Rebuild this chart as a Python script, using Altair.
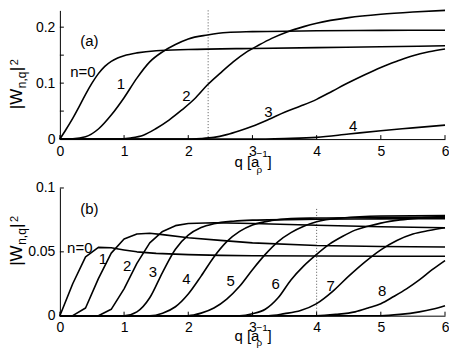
import altair as alt
import pandas as pd

FONT = "'Liberation Sans Narrow', 'Liberation Sans', Arial, sans-serif"
TFONT = "'Liberation Sans', Arial, sans-serif"

# ---------------- panel (a) ----------------
A_Q0 = [0, 0.1, 0.2, 0.3, 0.4, 0.5, 0.6, 0.7, 0.8, 0.9, 1.0, 1.2, 1.5, 2.0, 3.0, 4.0, 5.0, 6.0]
A_W0 = [0, 0.018, 0.037, 0.058, 0.080, 0.100, 0.117, 0.130, 0.139, 0.145, 0.149, 0.154, 0.158, 0.160, 0.162, 0.1635, 0.165, 0.1667]
A_Q1 = [0, 0.2, 0.4, 0.6, 0.8, 1.0, 1.2, 1.4, 1.6, 1.8, 2.0, 2.3, 2.6, 3.0, 4.0, 5.0, 6.0]
A_W1 = [0, 0.0005, 0.004, 0.018, 0.043, 0.074, 0.109, 0.138, 0.156, 0.169, 0.179, 0.186, 0.1905, 0.192, 0.1935, 0.1943, 0.1946]
A_Q2 = [0, 0.9, 1.1, 1.3, 1.5, 1.7, 1.9, 2.1, 2.3, 2.5, 2.7, 2.9, 3.1, 3.3, 3.55, 3.8, 4.0, 4.5, 5.0, 5.5, 6.0]
A_W2 = [0, 0, 0.002, 0.007, 0.019, 0.034, 0.052, 0.072, 0.097, 0.118, 0.138, 0.155, 0.168, 0.180, 0.192, 0.201, 0.207, 0.217, 0.223, 0.227, 0.230]
A_Q3 = [0, 1.9, 2.2, 2.4, 2.6, 2.8, 3.0, 3.25, 3.5, 3.75, 4.0, 4.25, 4.5, 4.75, 5.0, 5.25, 5.5, 5.75, 6.0]
A_W3 = [0, 0, 0.001, 0.003, 0.008, 0.015, 0.023, 0.035, 0.048, 0.059, 0.071, 0.086, 0.101, 0.115, 0.128, 0.139, 0.149, 0.156, 0.161]
A_Q4 = [0, 3.0, 3.5, 4.0, 4.5, 5.0, 5.5, 6.0]
A_W4 = [0, 0, 0.001, 0.003, 0.009, 0.015, 0.020, 0.025]

A_LABEL_TEXT = ["(a)", "n=0", "1", "2", "3", "4"]
A_LABEL_Q = [0.46, 0.36, 0.95, 1.97, 3.25, 4.57]
A_LABEL_W = [0.175, 0.1205, 0.098, 0.077, 0.049, 0.024]
A_YTICKS = [0, 0.05, 0.1, 0.15, 0.2]
A_DOMAIN = [0, 0.23]
A_MARKER_Q = 2.31

# ---------------- panel (b) ----------------
B_Q0 = [0, 0.2, 0.4, 0.6, 0.8, 1.0, 1.2, 1.5, 2.0, 2.5, 3.0, 4.0, 5.0, 6.0]
B_W0 = [0, 0.025, 0.046, 0.0535, 0.0532, 0.0515, 0.0500, 0.0488, 0.0478, 0.0472, 0.0469, 0.0467, 0.0466, 0.0466]
B_Q1 = [0, 0.2, 0.4, 0.6, 0.8, 1.0, 1.2, 1.4, 1.6, 2.0, 2.5, 3.0, 4.0, 5.0, 6.0]
B_W1 = [0, 0, 0.006, 0.029, 0.049, 0.060, 0.064, 0.0645, 0.0635, 0.061, 0.059, 0.057, 0.055, 0.0542, 0.0538]
B_Q2 = [0, 0.6, 0.8, 1.0, 1.2, 1.4, 1.6, 1.8, 2.0, 2.4, 3.0, 4.0, 5.0, 6.0]
B_W2 = [0, 0, 0.005, 0.021, 0.041, 0.057, 0.066, 0.0705, 0.0722, 0.0728, 0.0722, 0.0708, 0.0696, 0.0688]
B_Q3 = [0, 1.0, 1.2, 1.4, 1.6, 1.8, 2.0, 2.2, 2.4, 2.7, 3.0, 4.0, 5.0, 6.0]
B_W3 = [0, 0, 0.003, 0.014, 0.034, 0.052, 0.063, 0.069, 0.072, 0.074, 0.0748, 0.0755, 0.0758, 0.0760]
B_Q4 = [0, 1.4, 1.6, 1.8, 2.0, 2.2, 2.4, 2.6, 2.8, 3.0, 3.3, 3.6, 4.0, 5.0, 6.0]
B_W4 = [0, 0, 0.002, 0.007, 0.017, 0.031, 0.046, 0.058, 0.066, 0.071, 0.0745, 0.076, 0.0765, 0.077, 0.0772]
B_Q5 = [0, 2.0, 2.2, 2.4, 2.6, 2.8, 3.0, 3.2, 3.4, 3.6, 3.8, 4.0, 4.4, 5.0, 6.0]
B_W5 = [0, 0, 0.002, 0.006, 0.013, 0.023, 0.036, 0.048, 0.058, 0.065, 0.070, 0.0735, 0.0765, 0.078, 0.0784]
B_Q6 = [0, 2.8, 3.0, 3.2, 3.4, 3.6, 3.8, 4.0, 4.2, 4.4, 4.6, 4.8, 5.0, 5.3, 5.6, 6.0]
B_W6 = [0, 0, 0.0015, 0.005, 0.014, 0.028, 0.039, 0.048, 0.056, 0.062, 0.067, 0.070, 0.0725, 0.075, 0.0765, 0.0778]
B_Q7 = [0, 3.25, 3.5, 3.75, 4.0, 4.25, 4.5, 4.75, 5.0, 5.25, 5.5, 5.75, 6.0]
B_W7 = [0, 0, 0.0016, 0.004, 0.0094, 0.019, 0.031, 0.042, 0.0516, 0.0589, 0.064, 0.0667, 0.0688]
B_Q8 = [0, 4.0, 4.3, 4.6, 4.8, 5.0, 5.2, 5.4, 5.6, 5.8, 6.0]
B_W8 = [0, 0, 0.001, 0.003, 0.006, 0.0094, 0.015, 0.021, 0.028, 0.036, 0.0432]
B_Q9 = [0, 5.0, 5.3, 5.6, 5.8, 6.0]
B_W9 = [0, 0, 0.001, 0.003, 0.005, 0.0078]

B_LABEL_TEXT = ["(b)", "n=0", "1", "2", "3", "4", "5", "6", "7", "8"]
B_LABEL_Q = [0.46, 0.31, 0.67, 1.05, 1.45, 1.97, 2.66, 3.36, 4.22, 5.02]
B_LABEL_W = [0.0836, 0.053, 0.044, 0.0388, 0.034, 0.0289, 0.0271, 0.025, 0.0232, 0.019]
B_YTICKS = [0, 0.05, 0.1]
B_DOMAIN = [0, 0.1]
B_MARKER_Q = 4.0
B_MARKER_TOP = 0.0836

X_TICKS = [0, 1, 2, 3, 4, 5, 6]
X_DOMAIN = [0, 6]

W = 386


def frame(qs, ws):
    rows = []
    for n, (q, w) in enumerate(zip(qs, ws)):
        for a, b in zip(q, w):
            rows.append({"n": n, "q": a, "w": b})
    return pd.DataFrame(rows)


ONE = pd.DataFrame({"a": [0]})


def piece(text, x, y, size, angle=0, font=FONT):
    return alt.Chart(ONE).mark_text(
        text=text, fontSize=size, angle=angle, align="left",
        baseline="alphabetic", font=font, color="black"
    ).encode(x=alt.value(x), y=alt.value(y))


def panel(df, lin_max, ltext, lq, lw, yticks, ydomain, h, marker, ytitle_pos, xtitle_pos, sub_dy):
    xs = alt.Scale(domain=X_DOMAIN, nice=False, zero=False)
    ys = alt.Scale(domain=ydomain, nice=False)
    xaxis = alt.Axis(values=X_TICKS, format="d", ticks=False, grid=False, title=None,
                     labelPadding=5, labelFontSize=14, labelFont=FONT, labelColor="black",
                     domainColor="black", domainWidth=1, labelFlush=False)
    yaxis = alt.Axis(values=yticks, format="~g", ticks=False, grid=False, title=None,
                     labelPadding=5, labelFontSize=14, labelFont=FONT, labelColor="black",
                     domainColor="black", domainWidth=1, labelFlush=False)
    base = alt.Chart(df)
    enc = dict(x=alt.X("q:Q", scale=xs, axis=xaxis), y=alt.Y("w:Q", scale=ys, axis=yaxis),
               detail="n:N")
    smooth = base.transform_filter(alt.datum.n > lin_max).mark_line(
        color="black", strokeWidth=1.6, strokeJoin="round", interpolate="monotone").encode(**enc)
    layers = [smooth]
    if lin_max >= 0:
        lin = base.transform_filter(alt.datum.n <= lin_max).mark_line(
            color="black", strokeWidth=1.6, strokeJoin="round", interpolate="linear").encode(**enc)
        layers.append(lin)
    mk = alt.Chart(pd.DataFrame(marker)).mark_rule(
        color="#555", strokeWidth=1, strokeDash=[1, 2]).encode(
        x=alt.X("q:Q", scale=xs), y=alt.Y("top:Q", scale=ys), y2="bot:Q")
    xt = alt.Chart(pd.DataFrame({"t": X_TICKS})).mark_rule(color="black", strokeWidth=1).encode(
        x=alt.X("t:Q", scale=xs), y=alt.value(h), y2=alt.value(h - 4))
    yt = alt.Chart(pd.DataFrame({"t": yticks})).mark_rule(color="black", strokeWidth=1).encode(
        y=alt.Y("t:Q", scale=ys), x=alt.value(0), x2=alt.value(4))
    labels = alt.Chart(pd.DataFrame({"t": ltext, "q": lq, "w": lw})).mark_text(
        fontSize=15, font=FONT, color="black", align="center", baseline="middle").encode(
        x=alt.X("q:Q", scale=xs), y=alt.Y("w:Q", scale=ys), text="t:N")
    yx, yy = ytitle_pos
    ytitle = [
        piece("|W", yx, yy, 17, 270, TFONT),
        piece("n,q", yx + 4, yy - 21, 12, 270, TFONT),
        piece("|", yx, yy - 38, 17, 270, TFONT),
        piece("2", yx - 4.5, yy - 44, 11, 270, TFONT),
    ]
    xx, xy = xtitle_pos
    xtitle = [
        piece("q [a", xx, xy, 15),
        piece("ρ", xx + 22, xy + sub_dy, 10),
        piece("−1", xx + 22, xy - 10, 10),
        piece("]", xx + 33, xy, 15),
    ]
    return alt.layer(mk, *layers, xt, yt, labels, *ytitle, *xtitle).properties(width=W, height=h)


top = panel(frame([A_Q0, A_Q1, A_Q2, A_Q3, A_Q4], [A_W0, A_W1, A_W2, A_W3, A_W4]), -1,
            A_LABEL_TEXT, A_LABEL_Q, A_LABEL_W, A_YTICKS, A_DOMAIN, 129,
            {"q": [A_MARKER_Q], "top": [A_DOMAIN[1]], "bot": [0]},
            (-37.5, 99), (175, 157), 6)
bottom = panel(frame([B_Q0, B_Q1, B_Q2, B_Q3, B_Q4, B_Q5, B_Q6, B_Q7, B_Q8, B_Q9],
                     [B_W0, B_W1, B_W2, B_W3, B_W4, B_W5, B_W6, B_W7, B_W8, B_W9]), 2,
               B_LABEL_TEXT, B_LABEL_Q, B_LABEL_W, B_YTICKS, B_DOMAIN, 128,
               {"q": [B_MARKER_Q], "top": [B_MARKER_TOP], "bot": [0]},
               (-37.5, 78), (175, 153), 5)

chart = alt.vconcat(top, bottom, spacing=49, bounds="flush").properties(
    padding={"left": 0, "top": 1, "right": 0, "bottom": 0}
).configure_view(stroke=None)

chart.save("out.html", embed_options={"renderer": "svg", "actions": False})
